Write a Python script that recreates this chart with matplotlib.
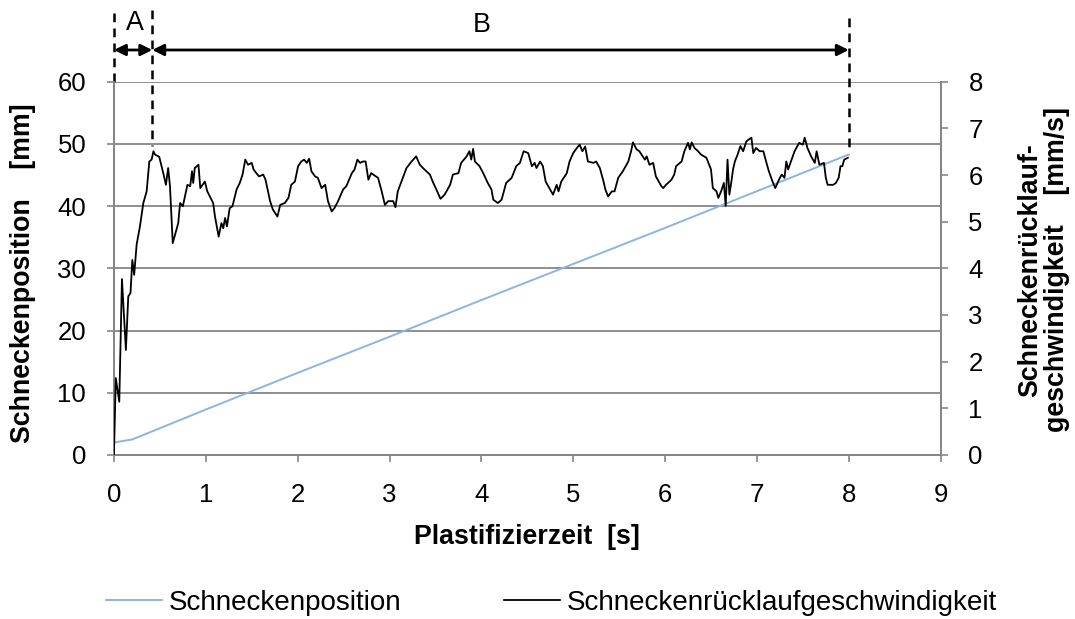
# Plastifizierung: Schneckenposition und Schneckenruecklaufgeschwindigkeit
import numpy as np
import matplotlib
matplotlib.use('Agg')
import matplotlib.pyplot as plt

plt.rcParams['font.family'] = ['Liberation Sans', 'DejaVu Sans']

# Schneckenposition [mm] over time [s]
pos_t = [0.0, 0.2, 1.0, 2.0, 3.0, 4.0, 5.0, 6.0, 7.0, 8.0]
pos_mm = [2.0, 2.5, 7.3, 13.2, 19.0, 24.9, 30.7, 36.5, 42.4, 48.3]

# Schneckenruecklaufgeschwindigkeit [mm/s] over time [s]
speed_t = [0.0, 0.02, 0.058, 0.087, 0.13, 0.156, 0.18, 0.20, 0.22, 0.247,
           0.283, 0.32, 0.356, 0.385, 0.41, 0.43, 0.446, 0.493, 0.537, 0.566,
           0.59, 0.61, 0.64, 0.70, 0.72, 0.75, 0.80, 0.83, 0.85, 0.863,
           0.88, 0.92, 0.94, 0.99, 1.016, 1.08, 1.10, 1.14, 1.17, 1.19,
           1.21, 1.23, 1.26, 1.29, 1.335, 1.37, 1.40, 1.43, 1.46, 1.50,
           1.52, 1.55, 1.58, 1.625, 1.65, 1.68, 1.70, 1.73, 1.78, 1.81,
           1.86, 1.90, 1.93, 1.97, 2.005, 2.04, 2.07, 2.10, 2.125, 2.15,
           2.19, 2.22, 2.26, 2.30, 2.33, 2.37, 2.40, 2.44, 2.495, 2.53,
           2.59, 2.62, 2.65, 2.68, 2.71, 2.74, 2.77, 2.80, 2.875, 2.91,
           2.95, 2.985, 3.04, 3.065, 3.09, 3.13, 3.185, 3.24, 3.29, 3.33,
           3.38, 3.44, 3.47, 3.51, 3.555, 3.60, 3.66, 3.69, 3.75, 3.78,
           3.84, 3.87, 3.89, 3.91, 3.93, 3.98, 4.02, 4.07, 4.11, 4.13,
           4.18, 4.22, 4.27, 4.33, 4.38, 4.42, 4.46, 4.51, 4.55, 4.58,
           4.60, 4.64, 4.67, 4.70, 4.74, 4.78, 4.82, 4.84, 4.87, 4.93,
           4.96, 5.00, 5.04, 5.07, 5.10, 5.13, 5.16, 5.22, 5.25, 5.29,
           5.33, 5.35, 5.38, 5.42, 5.45, 5.49, 5.54, 5.60, 5.63, 5.65,
           5.69, 5.72, 5.78, 5.80, 5.83, 5.87, 5.90, 5.96, 5.98, 6.01,
           6.07, 6.10, 6.12, 6.18, 6.21, 6.25, 6.27, 6.29, 6.32, 6.36,
           6.39, 6.45, 6.50, 6.52, 6.56, 6.58, 6.61, 6.64, 6.66, 6.68,
           6.70, 6.72, 6.74, 6.76, 6.79, 6.82, 6.85, 6.885, 6.91, 6.94,
           6.96, 6.99, 7.03, 7.07, 7.10, 7.13, 7.17, 7.20, 7.24, 7.27,
           7.30, 7.32, 7.34, 7.37, 7.41, 7.46, 7.50, 7.52, 7.55, 7.59,
           7.63, 7.65, 7.68, 7.73, 7.75, 7.77, 7.83, 7.86, 7.89, 7.91,
           7.93, 7.95, 7.99]
speed_v = [0.0, 1.65, 1.14, 3.77, 2.25, 3.40, 3.47, 4.18, 3.86, 4.51,
           4.90, 5.40, 5.65, 6.29, 6.33, 6.51, 6.44, 6.39, 6.04, 5.79,
           6.15, 5.76, 4.54, 4.97, 5.40, 5.33, 5.79, 5.76, 6.08, 5.83,
           6.15, 6.22, 5.72, 5.86, 5.65, 5.40, 5.11, 4.68, 4.97, 4.86,
           5.08, 4.90, 5.29, 5.33, 5.69, 5.83, 6.01, 6.33, 6.22, 6.26,
           6.12, 6.04, 5.97, 6.01, 5.90, 5.62, 5.44, 5.26, 5.11, 5.36,
           5.40, 5.51, 5.79, 5.86, 6.19, 6.29, 6.33, 6.26, 6.35, 6.08,
           5.97, 5.94, 5.72, 5.79, 5.44, 5.22, 5.29, 5.44, 5.69, 5.76,
           6.04, 6.12, 6.33, 6.26, 6.29, 6.29, 5.90, 6.04, 5.94, 5.69,
           5.36, 5.44, 5.44, 5.31, 5.65, 5.86, 6.15, 6.29, 6.40, 6.22,
           6.12, 6.01, 5.86, 5.69, 5.49, 5.58, 5.79, 6.01, 6.04, 6.26,
           6.40, 6.51, 6.33, 6.56, 6.29, 6.19, 6.04, 5.83, 5.69, 5.47,
           5.40, 5.47, 5.83, 5.94, 6.19, 6.26, 6.51, 6.47, 6.19, 6.26,
           6.15, 6.29, 6.19, 5.86, 5.72, 5.58, 5.79, 5.65, 5.86, 6.04,
           6.29, 6.47, 6.58, 6.65, 6.51, 6.61, 6.29, 6.26, 6.29, 6.15,
           5.86, 5.69, 5.54, 5.65, 5.65, 5.94, 6.08, 6.29, 6.51, 6.70,
           6.55, 6.51, 6.33, 6.40, 6.22, 6.26, 5.97, 5.76, 5.72, 5.79,
           5.90, 6.01, 6.19, 6.29, 6.51, 6.69, 6.55, 6.70, 6.58, 6.51,
           6.44, 6.37, 6.12, 5.72, 5.65, 5.51, 5.65, 5.83, 5.34, 6.33,
           5.58, 5.83, 6.12, 6.29, 6.44, 6.62, 6.51, 6.72, 6.76, 6.80,
           6.47, 6.58, 6.51, 6.51, 6.29, 6.08, 5.86, 5.72, 5.90, 6.01,
           5.94, 6.29, 6.12, 6.29, 6.51, 6.69, 6.65, 6.80, 6.58, 6.40,
           6.26, 6.51, 6.22, 6.26, 5.94, 5.79, 5.79, 5.83, 5.94, 6.19,
           6.19, 6.33, 6.37]

# phase boundaries A / B
phase_edges = [0.0, 0.417, 8.0]
phase_labels = ['A', 'B']

grey = '#868686'
fs = 18.5
fs_lab = 19.3
fs_leg = 20

fig = plt.figure(figsize=(10.75, 6.19), dpi=100)
ax = fig.add_axes([0.106, 0.265, 0.769, 0.603])
ax2 = ax.twinx()

l1, = ax.plot(pos_t, pos_mm, color='#8DB4E2', lw=1.4, zorder=3)
l2, = ax2.plot(speed_t, speed_v, color='black', lw=1.3, zorder=4)

ax.set_xlim(0, 9)
ax.set_ylim(0, 60)
ax2.set_ylim(0, 8)
ax.set_xticks(np.arange(0, 10, 1))
ax.set_yticks(np.arange(0, 70, 10))
ax2.set_yticks(np.arange(0, 9, 1))

ax.yaxis.grid(True, color=grey, lw=1.3)
ax.set_axisbelow(True)

for a in (ax, ax2):
    a.spines['top'].set_visible(False)
    for s in ('left', 'right', 'bottom'):
        a.spines[s].set_color(grey)
        a.spines[s].set_linewidth(1.3)
    a.tick_params(axis='both', length=5, width=1.2, color=grey,
                  labelsize=fs, pad=15, direction='out')

# axis titles
fig.text(0.49, 0.132, 'Plastifizierzeit  [s]', ha='center', va='center',
         fontsize=fs_lab, fontweight='bold')
fig.text(0.021, 0.559, 'Schneckenposition    [mm]', rotation=90,
         ha='center', va='center', fontsize=fs_lab, fontweight='bold')
fig.text(0.971, 0.564, 'Schneckenrücklauf-\ngeschwindigkeit    [mm/s]',
         rotation=90, ha='center', va='center', multialignment='center',
         fontsize=fs_lab, fontweight='bold', linespacing=1.05)

# phase markers above the plot
dash = dict(color='black', lw=1.8, ls=(0, (3.5, 2.5)), clip_on=False, zorder=5)
ax.plot([phase_edges[0]] * 2, [71.0, 60.0], **dash)
ax.plot([phase_edges[1]] * 2, [71.5, 49.6], **dash)
ax.plot([phase_edges[2]] * 2, [70.3, 48.5], **dash)
for i, lab in enumerate(phase_labels):
    x0, x1 = phase_edges[i], phase_edges[i + 1]
    ax.annotate('', xy=(x0, 65.1), xytext=(x1, 65.1),
                arrowprops=dict(arrowstyle='<|-|>', color='black', lw=2,
                                mutation_scale=17, shrinkA=0, shrinkB=0),
                annotation_clip=False)
lab_x = [0.23, 4.0]
lab_y = [69.5, 69.1]
for x, y, lab in zip(lab_x, lab_y, phase_labels):
    ax.text(x, y, lab, ha='center', va='center', fontsize=fs_lab)

fig.legend([l1, l2], ['Schneckenposition', 'Schneckenrücklaufgeschwindigkeit'],
           loc='center', bbox_to_anchor=(0.513, 0.026), ncol=2, frameon=False,
           fontsize=fs_leg, handlelength=2.0, handletextpad=0.25,
           columnspacing=3.7)

fig.savefig('out.png', dpi=100)
